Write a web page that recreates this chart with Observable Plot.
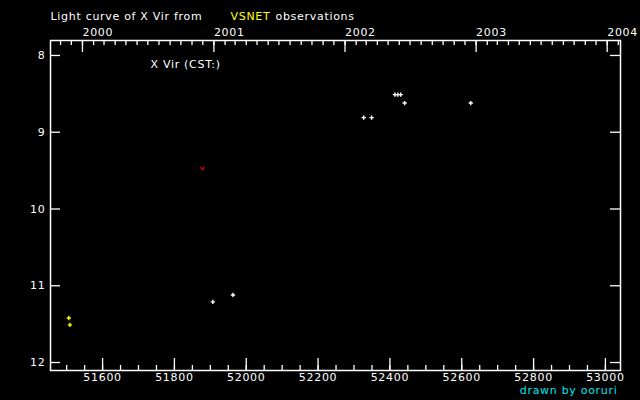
<!DOCTYPE html>
<html><head><meta charset="utf-8">
<script src="https://cdn.jsdelivr.net/npm/d3@7"></script>
<script src="https://cdn.jsdelivr.net/npm/@observablehq/plot@0.6"></script>
<style>
html,body{margin:0;padding:0;background:#000;}
svg text{letter-spacing:0.7px;}
</style>
</head><body><div id="chart"></div>
<script>
// Observations (MJD, magnitude)
const whiteMjd = [51907, 51963, 52327, 52349, 52414, 52422, 52430, 52441, 52625];
const whiteMag = [11.21, 11.12, 8.81, 8.81, 8.51, 8.51, 8.51, 8.62, 8.62];
const yellowMjd = [51506, 51509];
const yellowMag = [11.42, 11.51];
const limitMjd = [51878];
const limitMag = [9.47];

// Axis ticks and labels
const xMajorTicks = [51600, 51800, 52000, 52200, 52400, 52600, 52800, 53000];
const yTicks = [8, 9, 10, 11, 12];
const yearLabels = [2000, 2001, 2002, 2003, 2004];

const xDomain = [51455, 53042];
const yDomain = [7.805, 12.104];

const toMjd = (y, m) => Date.UTC(y, m, 1) / 86400000 + 40587;
const yearTicks = yearLabels.map(y => toMjd(y, 0));
const monthTicks = [];
for (let y = 1999; y <= 2004; y++) for (let m = 0; m < 12; m++) {
  const v = toMjd(y, m);
  if (v >= xDomain[0] && v <= xDomain[1]) monthTicks.push(v);
}
const xMinorTicks = d3.range(51500, 53001, 50);

const white = whiteMjd.map((x, i) => ({x, y: whiteMag[i]}));
const yellow = yellowMjd.map((x, i) => ({x, y: yellowMag[i]}));
const limits = limitMjd.map((x, i) => ({x, y: limitMag[i]}));

const vSymbol = {draw(ctx) { ctx.moveTo(-2.2, -1.2); ctx.lineTo(0, 1.4); ctx.lineTo(2.2, -1.2); }};

const W = 640, H = 400, mL = 50, mR = 20, mT = 40, mB = 30;
const pw = W - mL - mR, ph = H - mT - mB;
const fg = "#ffffff";

const chart = Plot.plot({
  width: W, height: H,
  marginLeft: mL, marginRight: mR, marginTop: mT, marginBottom: mB,
  style: {background: "#000", color: fg, fontFamily: "DejaVu Sans", fontSize: "11px"},
  x: {domain: xDomain, axis: null},
  y: {domain: yDomain, reverse: true, axis: null},
  marks: [
    Plot.frame({stroke: fg, strokeWidth: 1.5}),
    // bottom ticks
    Plot.tickX(xMinorTicks, {x: d => d, stroke: fg, strokeWidth: 1.3, insetTop: ph - 5}),
    Plot.tickX(xMajorTicks, {x: d => d, stroke: fg, strokeWidth: 1.3, insetTop: ph - 12}),
    Plot.text(xMajorTicks, {x: d => d, frameAnchor: "bottom", dy: 10, text: d => String(d), fill: fg}),
    // top ticks (years)
    Plot.tickX(monthTicks, {x: d => d, stroke: fg, strokeWidth: 1.3, insetBottom: ph - 5}),
    Plot.tickX(yearTicks, {x: d => d, stroke: fg, strokeWidth: 1.3, insetBottom: ph - 12}),
    Plot.text(yearLabels, {x: (d, i) => yearTicks[i], frameAnchor: "top", dy: -12, textAnchor: "start", text: d => String(d), fill: fg}),
    // y ticks both sides
    Plot.tickY(yTicks, {y: d => d, stroke: fg, strokeWidth: 1.3, insetRight: pw - 10}),
    Plot.tickY(yTicks, {y: d => d, stroke: fg, strokeWidth: 1.3, insetLeft: pw - 10}),
    Plot.text(yTicks, {y: d => d, frameAnchor: "left", dx: -5, textAnchor: "end", text: d => String(d), fill: fg}),
    // data
    Plot.dot(white, {x: "x", y: "y", symbol: "plus", r: 1.5, stroke: fg, strokeWidth: 1.4}),
    Plot.dot(yellow, {x: "x", y: "y", symbol: "plus", r: 1.5, stroke: "#ffff00", strokeWidth: 1.4}),
    Plot.dot(limits, {x: "x", y: "y", symbol: vSymbol, fill: "none", stroke: "#e00000", strokeWidth: 1.2}),
    // texts
    Plot.text(["Light curve of X Vir from"], {frameAnchor: "top-left", dy: -28, textAnchor: "start", fill: fg}),
    Plot.text(["VSNET"], {frameAnchor: "top-left", dx: 180, dy: -28, textAnchor: "start", fill: "#ffff00"}),
    Plot.text(["observations"], {frameAnchor: "top-left", dx: 225, dy: -28, textAnchor: "start", fill: fg}),
    Plot.text(["X Vir (CST:)"], {frameAnchor: "top-left", dx: 100, dy: 20, textAnchor: "start", fill: fg}),
    Plot.text(["drawn by ooruri"], {frameAnchor: "bottom-right", dx: -3, dy: 23, textAnchor: "end", fill: "#00e5ee"})
  ]
});
document.getElementById("chart").appendChild(chart);
</script>
</body></html>
